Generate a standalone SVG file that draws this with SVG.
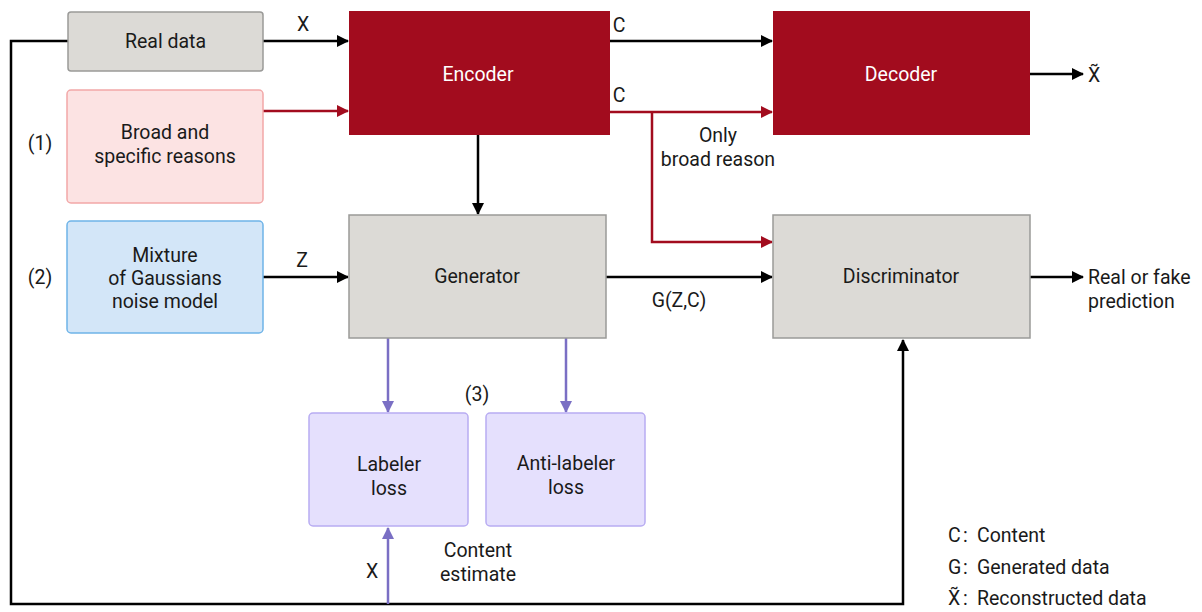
<svg xmlns="http://www.w3.org/2000/svg" width="1202" height="612" viewBox="0 0 1202 612">
  <defs>
    <style>
      text { font-family: Roboto, "Noto Sans", "DejaVu Sans", sans-serif; font-size: 19.5px; fill: #1a1a1a; }
      .c { text-anchor: middle; }
      .w { fill: #ffffff; }
      .gray { fill: #dcdad6; stroke: #9a9a98; stroke-width: 1.5; }
      .red { fill: #a20c1e; }
      .pink { fill: #fce3e3; stroke: #f2a8a8; stroke-width: 1.5; }
      .blue { fill: #d3e6f8; stroke: #6fb4e8; stroke-width: 1.5; }
      .lav { fill: #e5e0fd; stroke: #b8acf2; stroke-width: 1.5; }
      .k { stroke: #000; stroke-width: 2.5; fill: none; }
      .r { stroke: #a20c1e; stroke-width: 2.5; fill: none; }
      .p { stroke: #7a6fc4; stroke-width: 2.5; fill: none; }
    </style>
    <marker id="ak" viewBox="0 0 12 12" refX="11" refY="6" markerWidth="12" markerHeight="12" markerUnits="userSpaceOnUse" orient="auto">
      <path d="M0,0 L12,6 L0,12 Z" fill="#000"/>
    </marker>
    <marker id="ar" viewBox="0 0 12 12" refX="11" refY="6" markerWidth="12" markerHeight="12" markerUnits="userSpaceOnUse" orient="auto">
      <path d="M0,0 L12,6 L0,12 Z" fill="#a20c1e"/>
    </marker>
    <marker id="ap" viewBox="0 0 12 12" refX="11" refY="6" markerWidth="12" markerHeight="12" markerUnits="userSpaceOnUse" orient="auto">
      <path d="M0,0 L12,6 L0,12 Z" fill="#7a6fc4"/>
    </marker>
  </defs>

  <rect width="1202" height="612" fill="#ffffff"/>

  <!-- connectors -->
  <g id="connectors">
    <path class="k" d="M68,41 H11 V604 H903 V340" marker-end="url(#ak)"/>
    <path class="p" d="M388,604 V528" marker-end="url(#ap)"/>
    <path class="k" d="M263,41 H348" marker-end="url(#ak)"/>
    <path class="r" d="M263,111 H348" marker-end="url(#ar)"/>
    <path class="k" d="M610,41 H772" marker-end="url(#ak)"/>
    <path class="r" d="M610,112 H772" marker-end="url(#ar)"/>
    <path class="r" d="M652,112 V242 H772" marker-end="url(#ar)"/>
    <path class="k" d="M1030,74 H1083" marker-end="url(#ak)"/>
    <path class="k" d="M478,135 V214" marker-end="url(#ak)"/>
    <path class="k" d="M263,277 H348" marker-end="url(#ak)"/>
    <path class="k" d="M606,277 H772" marker-end="url(#ak)"/>
    <path class="k" d="M1030,277 H1083" marker-end="url(#ak)"/>
    <path class="p" d="M388,338 V412" marker-end="url(#ap)"/>
    <path class="p" d="M566,338 V412" marker-end="url(#ap)"/>

    <text x="303" y="31" class="c">X</text>
    <text x="619" y="32" class="c">C</text>
    <text x="619" y="102" class="c">C</text>
    <text x="718" y="142" class="c">Only</text>
    <text x="718" y="166" class="c">broad reason</text>
    <text x="1088" y="82">X&#x0303;</text>
    <text x="302" y="267" class="c">Z</text>
    <text x="679" y="307" class="c">G(Z,C)</text>
    <text x="1088" y="284">Real or fake</text>
    <text x="1088" y="308">prediction</text>
    <text x="372" y="578" class="c">X</text>
    <text x="478" y="557" class="c">Content</text>
    <text x="478" y="581" class="c">estimate</text>
  </g>

  <g id="real-data">
    <rect class="gray" x="68" y="12" width="195" height="59" rx="3"/>
    <text x="165.5" y="48" class="c">Real data</text>
  </g>

  <g id="reasons">
    <rect class="pink" x="67" y="90" width="196" height="113" rx="4"/>
    <text x="165" y="139" class="c">Broad and</text>
    <text x="165" y="163" class="c">specific reasons</text>
    <text x="40" y="150" class="c">(1)</text>
  </g>

  <g id="noise-model">
    <rect class="blue" x="67" y="221" width="196" height="112" rx="4"/>
    <text x="165" y="262" class="c">Mixture</text>
    <text x="165" y="285" class="c">of Gaussians</text>
    <text x="165" y="308" class="c">noise model</text>
    <text x="40" y="284" class="c">(2)</text>
  </g>

  <g id="encoder">
    <rect class="red" x="349" y="11" width="261" height="124"/>
    <text x="478" y="81" class="c w">Encoder</text>
  </g>

  <g id="decoder">
    <rect class="red" x="773" y="11" width="257" height="124"/>
    <text x="901" y="81" class="c w">Decoder</text>
  </g>

  <g id="generator">
    <rect class="gray" x="349" y="215" width="257" height="123"/>
    <text x="477" y="283" class="c">Generator</text>
  </g>

  <g id="discriminator">
    <rect class="gray" x="773" y="215" width="257" height="123"/>
    <text x="901" y="283" class="c">Discriminator</text>
  </g>

  <g id="labeler-loss">
    <rect class="lav" x="309" y="413" width="159" height="113" rx="4"/>
    <text x="389" y="471" class="c">Labeler</text>
    <text x="389" y="495" class="c">loss</text>
  </g>

  <g id="anti-labeler-loss">
    <rect class="lav" x="486" y="413" width="159" height="113" rx="4"/>
    <text x="566" y="470" class="c">Anti-labeler</text>
    <text x="566" y="494" class="c">loss</text>
    <text x="477" y="401" class="c">(3)</text>
  </g>

  <g id="legend">
    <text x="948" y="542">C</text>
    <text x="963" y="542">:</text>
    <text x="977" y="542">Content</text>
    <text x="948" y="574">G</text>
    <text x="963" y="574">:</text>
    <text x="977" y="574">Generated data</text>
    <text x="948" y="605">X&#x0303;</text>
    <text x="963" y="605">:</text>
    <text x="977" y="605">Reconstructed data</text>
  </g>
</svg>
